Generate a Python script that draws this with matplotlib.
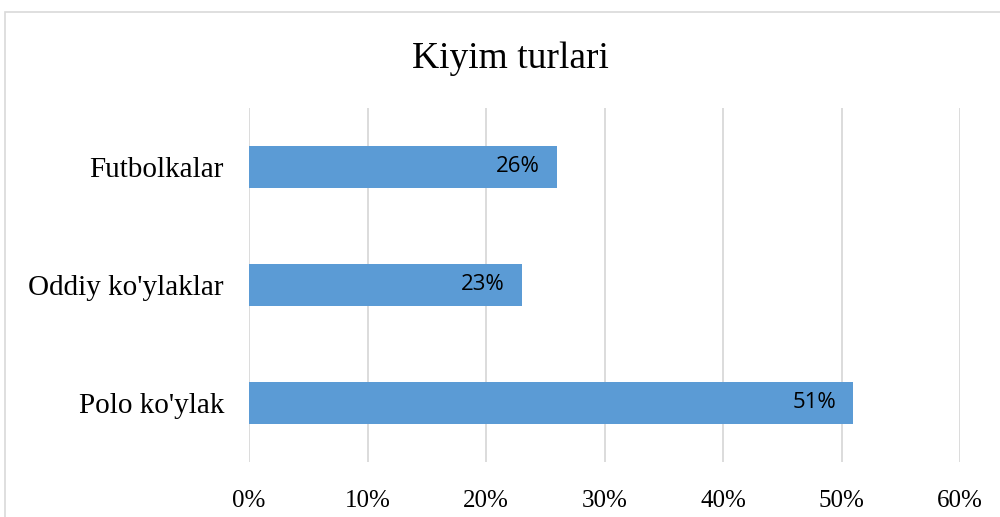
import matplotlib
matplotlib.use("Agg")
import matplotlib.pyplot as plt
from matplotlib.patches import Rectangle

categories = ["Futbolkalar", "Oddiy ko'ylaklar", "Polo ko'ylak"]
values = [26, 23, 51]
xticks = [0, 10, 20, 30, 40, 50, 60]

BAR = "#5B9BD5"
GRID = "#D9D9D9"

fig = plt.figure(figsize=(10, 5.17), dpi=100)
# chart frame (runs off the right/bottom edge like the cropped source)
fig.patches.append(Rectangle((0.005, -0.05), 1.1, 1.027,
                             transform=fig.transFigure, fill=False,
                             edgecolor="#D9D9D9", lw=1.2))

ax = fig.add_axes([0.249, 0.1064, 0.711, 0.6847])
y = list(range(len(categories)))
ax.barh(y, values, height=0.355, color=BAR, zorder=3)
ax.set_ylim(len(categories) - 0.5, -0.5)
ax.set_xlim(0, 60)
ax.set_xticks(xticks)
ax.set_xticklabels([f"{t}%" for t in xticks], family="Liberation Serif", fontsize=18)
ax.set_yticks(y)
ax.set_yticklabels(categories, family="Liberation Serif", fontsize=21)
ax.tick_params(length=0)
ax.tick_params(axis="x", pad=20)
ax.tick_params(axis="y", pad=18)
ax.grid(axis="x", color=GRID, lw=1.3, zorder=0)
for s in ax.spines.values():
    s.set_visible(False)

for yi, v in zip(y, values):
    ax.text(v - 1.45, yi, f"{v}%", ha="right", va="center",
            family="Open Sans", fontsize=16, color="#000000", zorder=4)

fig.text(0.51, 0.887, "Kiyim turlari", ha="center", va="center",
         family="Liberation Serif", fontsize=27)

fig.savefig("out.png", dpi=100)
